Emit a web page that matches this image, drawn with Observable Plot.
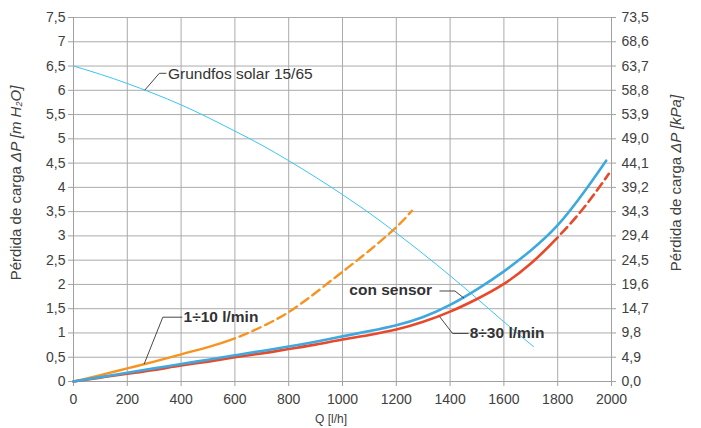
<!DOCTYPE html>
<html><head><meta charset="utf-8">
<script src="https://cdn.jsdelivr.net/npm/d3@7"></script>
<script src="https://cdn.jsdelivr.net/npm/@observablehq/plot@0.6"></script>
<style>
body{margin:0;background:#fff}
svg{font-family:"Liberation Sans",Arial,sans-serif}
</style>
</head><body><div id="chart"></div>
<script>
// ---- ticks / labels ----
const xTicks = [0,200,400,600,800,1000,1200,1400,1600,1800,2000];
const yTicks = [0,0.5,1,1.5,2,2.5,3,3.5,4,4.5,5,5.5,6,6.5,7,7.5];
const yLabels = ["0","0,5","1","1,5","2","2,5","3","3,5","4","4,5","5","5,5","6","6,5","7","7,5"];
const kPaLabels = ["0,0","4,9","9,8","14,7","19,6","24,5","29,4","34,3","39,2","44,1","49,0","53,9","58,8","63,7","68,6","73,5"];

// ---- series (Q in l/h, ΔP in m H2O) ----
const pumpQ = [0,100,200,300,400,500,600,700,800,900,1000,1100,1200,1300,1400,1500,1600,1710];
const pumpH = [6.50,6.33,6.14,5.93,5.70,5.44,5.16,4.87,4.55,4.21,3.85,3.47,3.06,2.63,2.18,1.71,1.23,0.72];

// 1÷10 l/min: solid up to 600 l/h, dashed beyond
const oneTenQ = [0,100,200,300,400,500,600,700,800,900,1000,1100,1200,1258];
const oneTenH = [0,0.13,0.27,0.41,0.56,0.71,0.89,1.13,1.43,1.83,2.26,2.70,3.18,3.52];
const oneTenDashFrom = 600;

const sensorQ = [0,100,200,300,400,500,600,700,800,900,1000,1100,1200,1300,1400,1500,1600,1700,1800,1900,1980];
const sensorH = [0,0.09,0.18,0.27,0.36,0.45,0.54,0.63,0.72,0.82,0.93,1.04,1.16,1.33,1.58,1.90,2.27,2.70,3.22,3.92,4.55];

// 8÷30 l/min: solid up to 1800 l/h, dashed beyond
const eightQ = [0,100,200,300,400,500,600,700,800,900,1000,1100,1200,1300,1400,1500,1600,1700,1800,1900,1990];
const eightH = [0,0.08,0.16,0.24,0.33,0.41,0.50,0.58,0.67,0.76,0.865,0.96,1.07,1.23,1.44,1.70,2.01,2.43,2.97,3.60,4.28];
const eightDashFrom = 1800;

// ---- annotations ----
const pumpLabel = ["Grundfos solar 15/65"], pumpLabelQ = [351], pumpLabelH = [6.33];
const boldLabels = ["1÷10 l/min","8÷30 l/min"], boldLabelsQ = [409,1473], boldLabelsH = [1.325,0.99];
const sensorLabel = ["con sensor"], sensorLabelQ = [1333], sensorLabelH = [1.875];
const leaderGrundfosQ = [266,319,344], leaderGrundfosH = [6.01,6.35,6.35];
const leaderOneTenQ = [263,332,403], leaderOneTenH = [0.365,1.325,1.325];
const leaderSensorQ = [1362,1418,1451], leaderSensorH = [1.865,1.865,1.72];
const leaderEightQ = [1362,1409,1467], leaderEightH = [1.33,0.99,0.99];

const rows = (Q, V) => Q.map((q,i) => ({q, v: V[i]}));
const labels = (T, Q, V) => T.map((t,i) => ({t, q: Q[i], v: V[i]}));

const gridColor = "#ababab";
const axisColor = "#a0a0a0";
const crv = "natural";

const plot = Plot.plot({
  width: 701, height: 428,
  marginLeft: 73, marginRight: 90, marginTop: 17, marginBottom: 47,
  style: {color: "#404040", fontFamily: "'Liberation Sans', Arial, sans-serif", background: "#fff"},
  x: {domain: [0, 2000]},
  y: {domain: [0, 7.5]},
  marks: [
    Plot.gridX({ticks: xTicks, stroke: gridColor, strokeOpacity: 1}),
    Plot.gridY({ticks: yTicks, stroke: gridColor, strokeOpacity: 1}),
    Plot.ruleX([0, 2000], {stroke: axisColor}),
    Plot.ruleY([0], {stroke: axisColor}),
    Plot.axisX({ticks: xTicks, tickSize: 5, tickPadding: 8, label: null, fontSize: 14, stroke: axisColor, tickFormat: d => String(d)}),
    Plot.axisY({ticks: yTicks, tickSize: 5, tickPadding: 3, label: null, fontSize: 14, stroke: axisColor, tickFormat: d => yLabels[yTicks.indexOf(d)]}),
    Plot.axisY({anchor: "right", ticks: yTicks, tickSize: 4, tickPadding: 6, label: null, fontSize: 14, stroke: axisColor, tickFormat: d => kPaLabels[yTicks.indexOf(d)]}),
    // curves
    Plot.line(rows(pumpQ, pumpH), {x: "q", y: "v", stroke: "#3ec4f2", strokeWidth: 1, curve: crv}),
    Plot.line(rows(oneTenQ, oneTenH), {x: "q", y: "v", stroke: "#f7931e", strokeWidth: 2.4, curve: crv, className: "c-oneten"}),
    Plot.line(rows(eightQ, eightH), {x: "q", y: "v", stroke: "#e8492b", strokeWidth: 2.6, curve: crv, className: "c-eight"}),
    Plot.line(rows(sensorQ, sensorH), {x: "q", y: "v", stroke: "#3fa9df", strokeWidth: 2.6, curve: crv}),
    // leaders
    Plot.line(rows(leaderGrundfosQ, leaderGrundfosH), {x: "q", y: "v", stroke: "#333", strokeWidth: 0.9}),
    Plot.line(rows(leaderOneTenQ, leaderOneTenH), {x: "q", y: "v", stroke: "#333", strokeWidth: 0.9}),
    Plot.line(rows(leaderSensorQ, leaderSensorH), {x: "q", y: "v", stroke: "#333", strokeWidth: 0.9}),
    Plot.line(rows(leaderEightQ, leaderEightH), {x: "q", y: "v", stroke: "#333", strokeWidth: 0.9}),
    Plot.text(labels(pumpLabel, pumpLabelQ, pumpLabelH), {x: "q", y: "v", text: "t", textAnchor: "start", fontSize: 15.5, fill: "#333"}),
    Plot.text(labels(boldLabels, boldLabelsQ, boldLabelsH), {x: "q", y: "v", text: "t", textAnchor: "start", fontWeight: "bold", fontSize: 15.5, fill: "#333"}),
    Plot.text(labels(sensorLabel, sensorLabelQ, sensorLabelH), {x: "q", y: "v", text: "t", textAnchor: "end", fontWeight: "bold", fontSize: 15.5, fill: "#333"})
  ]
});

document.getElementById("chart").appendChild(plot);
const svg = d3.select(plot);

// Solid-then-dashed styling: find path length at the dash start and build dasharray
function dashFrom(cls, q) {
  const path = svg.select("." + cls + " path").node();
  if (!path) return;
  const xPix = plot.scale("x").apply(q);
  const total = path.getTotalLength();
  let lo = 0, hi = total;
  for (let k = 0; k < 40; k++) {
    const mid = (lo + hi) / 2;
    if (path.getPointAtLength(mid).x < xPix) lo = mid; else hi = mid;
  }
  const arr = [lo];
  let acc = lo;
  while (acc < total + 20) { arr.push(5, 9); acc += 14; }
  arr.push(5);
  path.setAttribute("stroke-dasharray", arr.map(d => d.toFixed(2)).join(","));
}
dashFrom("c-oneten", oneTenDashFrom);
dashFrom("c-eight", eightDashFrom);

// Axis titles
const lt = svg.append("text")
  .attr("transform", "translate(17,183) rotate(-90)")
  .attr("text-anchor", "middle").attr("dominant-baseline", "middle")
  .attr("font-size", 15).attr("fill", "#404040");
lt.append("tspan").text("Pérdida de carga ");
lt.append("tspan").attr("font-style", "italic").text("ΔP [m H");
lt.append("tspan").attr("font-style", "italic").attr("font-size", 9).attr("dy", 3).text("2");
lt.append("tspan").attr("font-style", "italic").attr("dy", -3).text("O]");

const rt = svg.append("text")
  .attr("transform", "translate(677,183) rotate(-90)")
  .attr("text-anchor", "middle").attr("dominant-baseline", "middle")
  .attr("font-size", 15).attr("fill", "#404040");
rt.append("tspan").text("Pérdida de carga ");
rt.append("tspan").attr("font-style", "italic").text("ΔP [kPa]");

svg.append("text")
  .attr("x", 331).attr("y", 420)
  .attr("text-anchor", "middle").attr("dominant-baseline", "middle")
  .attr("font-size", 12).attr("fill", "#404040")
  .text("Q [l/h]");
</script>
</body></html>
